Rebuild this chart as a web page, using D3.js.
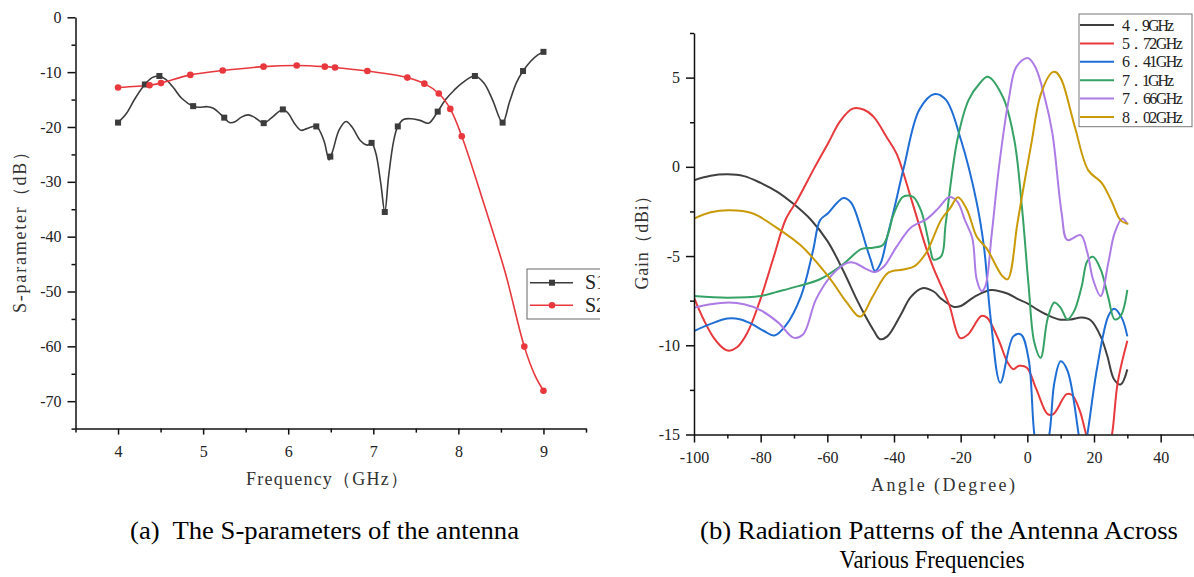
<!DOCTYPE html>
<html>
<head>
<meta charset="utf-8">
<script src="https://cdn.jsdelivr.net/npm/d3@7"></script>
<style>
  body { margin: 0; background: #fff; }
</style>
</head>
<body>
<div class="chart"></div>
<script>
// (a) S-parameters: dense line data + marker points
var s11Freq = [4.0, 4.1, 4.2, 4.315, 4.4, 4.48, 4.56, 4.65, 4.75, 4.883, 4.95, 5.05, 5.12, 5.2, 5.248, 5.31, 5.38, 5.45, 5.53, 5.6, 5.712, 5.8, 5.937, 6.0, 6.08, 6.15, 6.22, 6.33, 6.42, 6.48, 6.52, 6.6, 6.68, 6.75, 6.85, 6.93, 6.98, 7.03, 7.09, 7.135, 7.18, 7.24, 7.288, 7.36, 7.45, 7.55, 7.65, 7.757, 7.85, 7.95, 8.05, 8.194, 8.3, 8.4, 8.52, 8.6, 8.68, 8.76, 8.85, 8.93, 9.0];
var s11Val = [-19.2, -17.5, -14.8, -12.25, -11.0, -10.7, -11.3, -12.8, -14.8, -16.2, -16.4, -16.3, -16.6, -17.6, -18.3, -19.2, -19.0, -18.2, -17.8, -18.2, -19.3, -18.4, -16.8, -17.5, -19.5, -20.6, -20.3, -19.9, -22.5, -26.0, -24.5, -20.5, -19.0, -20.0, -22.5, -23.3, -22.9, -24.8, -30.5, -35.5, -29.0, -22.5, -19.9, -18.6, -18.5, -18.8, -19.3, -17.2, -15.0, -13.3, -11.9, -10.7, -12.0, -15.0, -19.2, -15.5, -12.0, -9.8, -8.0, -6.9, -6.3];
var s11MarkFreq = [4.0, 4.315, 4.486, 4.883, 5.248, 5.712, 5.937, 6.33, 6.495, 6.98, 7.135, 7.288, 7.757, 8.194, 8.52, 8.76, 9.0];
var s11MarkVal = [-19.2, -12.25, -10.7, -16.2, -18.3, -19.3, -16.8, -19.9, -25.4, -22.9, -35.5, -19.9, -17.2, -10.7, -19.2, -9.8, -6.3];

var s21Freq = [4.0, 4.37, 4.505, 4.85, 5.23, 5.71, 6.1, 6.43, 6.55, 6.93, 7.4, 7.6, 7.77, 7.905, 8.04, 8.3, 8.55, 8.775, 8.9, 9.0];
var s21Val = [-12.8, -12.4, -12.0, -10.5, -9.7, -9.0, -8.8, -9.0, -9.15, -9.8, -11.0, -12.1, -13.9, -16.7, -21.7, -34.0, -46.5, -60.05, -65.3, -68.1];
var s21MarkFreq = [4.0, 4.37, 4.505, 4.85, 5.23, 5.71, 6.1, 6.43, 6.55, 6.93, 7.4, 7.6, 7.77, 7.905, 8.04, 8.775, 9.0];
var s21MarkVal = [-12.8, -12.4, -12.0, -10.5, -9.7, -9.0, -8.8, -9.0, -9.15, -9.8, -11.0, -12.1, -13.9, -16.7, -21.7, -60.05, -68.1];

var sTicksX = [4, 5, 6, 7, 8, 9];
var sMinorX = [3.5, 4.5, 5.5, 6.5, 7.5, 8.5, 9.5];
var sTicksY = [0, -10, -20, -30, -40, -50, -60, -70];
var sMinorY = [-5, -15, -25, -35, -45, -55, -65, -75];
var sLegend = ["S11", "S21"];

// (b) radiation patterns, one angle/gain pair per frequency
var freqLabels = ["4．9GHz", "5．72GHz", "6．41GHz", "7．1GHz", "7．66GHz", "8．02GHz"];

var ang49 = [-100, -95, -90, -85, -80, -75, -70, -65, -60, -55.4, -51, -48.6, -46, -44.2, -42, -38, -35, -31.5, -28, -25.8, -22, -20, -16, -11, -6, -3, 0, 3, 6, 9.5, 13, 16.3, 19, 22, 24, 26, 28, 30];
var gain49 = [-0.75, -0.5, -0.42, -0.52, -0.9, -1.4, -2.1, -2.95, -4.15, -5.75, -7.5, -8.36, -9.2, -9.66, -9.5, -8.3, -7.3, -6.8, -7.0, -7.4, -7.85, -7.8, -7.3, -6.9, -7.1, -7.4, -7.65, -8.0, -8.3, -8.55, -8.55, -8.45, -8.6, -9.5, -10.6, -11.9, -12.2, -11.35];

var ang572 = [-100, -97, -94, -91, -89.5, -87, -84, -80.4, -76, -72.5, -68.9, -64, -59.8, -56, -52.4, -49, -46.1, -42, -39.2, -34.7, -30.1, -28, -23.5, -20.1, -17.8, -13.8, -12.1, -8.7, -5.9, -4.2, -2.5, -0.2, 2.7, 6.1, 7.8, 11.8, 13.5, 15.8, 17.5, 20, 23, 25.4, 27.1, 30];
var gain572 = [-7.33, -8.6, -9.6, -10.2, -10.3, -10.1, -9.3, -7.6, -5.0, -2.95, -1.83, -0.1, 1.31, 2.6, 3.26, 3.2, 2.8, 1.6, 0.73, -1.88, -4.7, -5.75, -7.7, -9.6, -9.4, -8.36, -8.45, -9.66, -10.97, -11.34, -11.15, -11.25, -12.46, -13.86, -13.86, -12.74, -12.8, -13.7, -14.9, -16.5, -17.0, -15.0, -12.1, -9.75];

var ang641 = [-100, -95, -90, -86, -82.7, -79, -75.9, -72.5, -67.9, -64.3, -62.2, -59.8, -57, -55.2, -52.9, -50, -48.4, -47, -45.7, -44, -42, -40, -37, -32.4, -27.8, -24.4, -19.9, -15.3, -13, -11, -8.1, -4.2, -1.9, 0.4, 2.1, 4, 6.6, 8.1, 10, 12, 15.4, 16.5, 18, 20.9, 24.3, 26, 28.3, 30];
var gain641 = [-9.2, -8.8, -8.5, -8.55, -8.8, -9.2, -9.45, -8.9, -7.24, -4.7, -3.0, -2.6, -2.0, -1.75, -2.0, -3.4, -4.4, -5.2, -5.84, -5.4, -3.9, -2.4, 0.0, 3.2, 4.08, 3.75, 1.5, -1.9, -4.5, -8.5, -12.1, -9.5, -9.4, -10.8, -15.0, -17.0, -15.0, -12.1, -10.9, -11.4, -15.0, -16.5, -15.0, -11.3, -8.36, -7.95, -8.45, -9.5];

var ang71 = [-100, -90, -80, -75, -69, -62.2, -55.4, -49.7, -46.3, -43.4, -41.5, -40.4, -37.5, -35.8, -34.1, -31.8, -29, -28.2, -25.8, -24.5, -21, -17.6, -14.2, -11.9, -7.3, -3.9, -1.6, 0.4, 2.1, 4, 6.1, 8.1, 10, 12, 14, 16.3, 18, 19.7, 22, 24.3, 26.2, 28, 30];
var gain71 = [-7.24, -7.33, -7.24, -7.0, -6.7, -6.3, -5.47, -4.6, -4.53, -4.4, -3.6, -2.8, -1.7, -1.6, -1.7, -2.5, -4.7, -5.2, -5.0, -3.2, 1.5, 3.75, 4.7, 5.05, 3.9, 1.5, -2.3, -6.7, -9.85, -10.7, -8.5, -7.6, -7.9, -8.55, -8.1, -6.7, -5.28, -5.04, -5.75, -7.33, -8.55, -8.36, -6.9];

var ang766 = [-100, -95, -89.5, -85, -80.4, -74.7, -70.2, -67.3, -63.4, -58.8, -54.2, -52, -48.6, -45.7, -42.9, -39.4, -34.9, -30, -26.6, -23.5, -21, -18.7, -16.5, -15.2, -13.7, -12.6, -10.7, -8.5, -5.6, -3.3, 0.1, 2.4, 5.2, 7.5, 10.3, 12, 16, 18, 19.7, 22, 24.3, 26.2, 28.5, 30];
var gain766 = [-7.9, -7.7, -7.6, -7.7, -8.0, -8.73, -9.57, -9.4, -7.43, -6.1, -5.4, -5.37, -5.7, -5.9, -5.56, -4.53, -3.4, -2.9, -2.3, -1.7, -1.95, -3.0, -4.0, -6.3, -6.96, -6.7, -3.8, 0.0, 3.75, 5.6, 6.1, 5.6, 3.9, 1.9, -2.6, -4.1, -3.83, -4.8, -6.3, -7.24, -5.37, -3.7, -2.9, -3.2];

var ang802 = [-100, -95, -89.4, -82.5, -75.7, -68, -59.9, -54.2, -50.8, -49.7, -46.3, -41.7, -37.2, -33.8, -30.3, -25.8, -23.1, -20.8, -18.1, -15.2, -12.1, -7.6, -5.9, -3, -1.1, 1.2, 4.1, 7.5, 8.6, 10.3, 14.3, 18.3, 22.3, 25.2, 28, 30.3];
var gain802 = [-2.9, -2.55, -2.44, -2.6, -3.35, -4.4, -6.1, -7.6, -8.36, -8.36, -7.24, -5.93, -5.75, -5.56, -4.8, -2.95, -2.3, -1.7, -2.4, -3.9, -4.6, -6.1, -6.3, -3.2, -1.1, 1.3, 4.1, 5.3, 5.3, 4.85, 2.2, -0.2, -0.9, -1.9, -3.0, -3.2];

var patternColors = ["#404040", "#e8393c", "#1f6ed6", "#36a266", "#ad7be6", "#c99a06"];

var gTicksX = [-100, -80, -60, -40, -20, 0, 20, 40];
var gMinorX = [-90, -70, -50, -30, -10, 10, 30, 50];
var gTicksY = [-15, -10, -5, 0, 5];
var gMinorY = [-12.5, -7.5, -2.5, 2.5, 7.5];

var serif = "'Liberation Serif', 'Times New Roman', serif";

var svgWidth = 1194;
var svgHeight = 577;

var svg = d3.select(".chart")
  .append("svg")
  .attr("width", svgWidth)
  .attr("height", svgHeight);

// clip the left panel at the image seam (legend is cut there)
var defs = svg.append("defs");
defs.append("clipPath").attr("id", "leftClip")
  .append("rect").attr("x", 0).attr("y", 0).attr("width", 600).attr("height", 500);

function styleAxis(g) {
  g.selectAll("path, line").attr("stroke", "#111").attr("stroke-width", 1.5);
  g.selectAll("text")
    .style("font-family", serif)
    .style("font-size", "16px")
    .attr("fill", "#222");
}

// helper: major + minor ticks for one axis
function drawAxis(parent, axisMaker, scale, major, minor, bigTick, smallTick, pad, translate) {
  parent.append("g")
    .attr("transform", translate)
    .call(axisMaker(scale).tickValues(minor).tickSize(smallTick).tickFormat(""))
    .call(g => g.select(".domain").remove())
    .call(styleAxis);

  parent.append("g")
    .attr("transform", translate)
    .call(axisMaker(scale).tickValues(major).tickSize(bigTick).tickSizeOuter(0)
      .tickPadding(pad).tickFormat(d => String(d)))
    .call(styleAxis);
}

function axisTitle(parent, x, y, rotate, len, label) {
  parent.append("text")
    .attr("transform", `translate(${x}, ${y})` + (rotate ? " rotate(-90)" : ""))
    .attr("text-anchor", "middle")
    .attr("dy", "0.35em")
    .attr("textLength", len)
    .attr("lengthAdjust", "spacing")
    .style("font-family", serif)
    .style("font-size", "18px")
    .attr("fill", "#333")
    .text(label);
}

// ---------------- (a) S-parameters ----------------
var left = svg.append("g").attr("clip-path", "url(#leftClip)");

var sx = d3.scaleLinear().domain([3.5, 9.5]).range([75.5, 586]);
var sy = d3.scaleLinear().domain([-75, 0]).range([428.6, 17.3]);

drawAxis(left, d3.axisBottom, sx, sTicksX, sMinorX, 6, 4, 11, `translate(0, ${sy(-75)})`);
drawAxis(left, d3.axisLeft, sy, sTicksY, sMinorY, 8, 4, 6, `translate(${sx(3.5)}, 0)`);

var sLine = d3.line()
  .x(d => sx(d[0]))
  .y(d => sy(d[1]))
  .curve(d3.curveCatmullRom.alpha(0.5));

var s11Data = s11Freq.map((f, i) => [f, s11Val[i]]);
var s21Data = s21Freq.map((f, i) => [f, s21Val[i]]);

left.append("path")
  .attr("d", sLine(s11Data))
  .attr("fill", "none")
  .attr("stroke", "#3c3c3c")
  .attr("stroke-width", 1.6);

left.append("path")
  .attr("d", sLine(s21Data))
  .attr("fill", "none")
  .attr("stroke", "#e8383d")
  .attr("stroke-width", 1.6);

left.selectAll(".s11mark")
  .data(s11MarkFreq.map((f, i) => [f, s11MarkVal[i]]))
  .enter()
  .append("rect")
  .attr("x", d => sx(d[0]) - 3)
  .attr("y", d => sy(d[1]) - 3)
  .attr("width", 6)
  .attr("height", 6)
  .attr("fill", "#3c3c3c");

left.selectAll(".s21mark")
  .data(s21MarkFreq.map((f, i) => [f, s21MarkVal[i]]))
  .enter()
  .append("circle")
  .attr("cx", d => sx(d[0]))
  .attr("cy", d => sy(d[1]))
  .attr("r", 3.3)
  .attr("fill", "#e8383d");

// legend (cut off at the right edge)
var sLeg = left.append("g").attr("transform", "translate(527, 269)");
sLeg.append("rect")
  .attr("width", 100).attr("height", 50)
  .attr("fill", "#fff").attr("stroke", "#666").attr("stroke-width", 1);
sLegend.forEach(function(name, i) {
  var yy = 13.7 + i * 22.6;
  var col = i === 0 ? "#3c3c3c" : "#e8383d";
  sLeg.append("line").attr("x1", 3).attr("x2", 46).attr("y1", yy).attr("y2", yy)
    .attr("stroke", col).attr("stroke-width", 1.6);
  if (i === 0) {
    sLeg.append("rect").attr("x", 22).attr("y", yy - 3).attr("width", 6).attr("height", 6).attr("fill", col);
  } else {
    sLeg.append("circle").attr("cx", 25).attr("cy", yy).attr("r", 3.3).attr("fill", col);
  }
  sLeg.append("text").attr("x", 58).attr("y", yy + 6.5)
    .style("font-family", serif).style("font-size", "20px").attr("fill", "#222")
    .text(name);
});

axisTitle(left, 20, 228, true, 170, "S-parameter（dB）");
axisTitle(left, 327, 479, false, 162, "Frequency（GHz）");

// ---------------- (b) radiation patterns ----------------
var right = svg.append("g");

var gx = d3.scaleLinear().domain([-100, 50]).range([694, 1194]);
var gy = d3.scaleLinear().domain([-15, 7.5]).range([434.5, 33]);

defs.append("clipPath").attr("id", "plotClip")
  .append("rect")
  .attr("x", gx(-100)).attr("y", gy(7.5))
  .attr("width", gx(50) - gx(-100)).attr("height", gy(-15) - gy(7.5));

var gLine = d3.line()
  .x(d => gx(d[0]))
  .y(d => gy(d[1]))
  .curve(d3.curveCatmullRom.alpha(0.5));

var patternAngles = [ang49, ang572, ang641, ang71, ang766, ang802];
var patternGains = [gain49, gain572, gain641, gain71, gain766, gain802];

var lineGroup = right.append("g").attr("clip-path", "url(#plotClip)");
patternAngles.forEach(function(angles, k) {
  var pts = angles.map((a, i) => [a, patternGains[k][i]]);
  lineGroup.append("path")
    .attr("d", gLine(pts))
    .attr("fill", "none")
    .attr("stroke", patternColors[k])
    .attr("stroke-width", 2);
});

drawAxis(right, d3.axisBottom, gx, gTicksX, gMinorX, 8, 4, 9, `translate(0, ${gy(-15)})`);
drawAxis(right, d3.axisLeft, gy, gTicksY, gMinorY, 8, 4, 6, `translate(${gx(-100)}, 0)`);

var gLeg = right.append("g").attr("transform", "translate(1079, 14)");
gLeg.append("rect")
  .attr("width", 113).attr("height", 112.7)
  .attr("fill", "#fff").attr("stroke", "#777").attr("stroke-width", 1);
freqLabels.forEach(function(name, i) {
  var yy = 11 + i * 18.4;
  gLeg.append("line").attr("x1", 1).attr("x2", 35).attr("y1", yy).attr("y2", yy)
    .attr("stroke", patternColors[i]).attr("stroke-width", 2);
  gLeg.append("text")
    .attr("x", 43).attr("y", yy + 5.5)
    .attr("textLength", name.length * 8.7)
    .attr("lengthAdjust", "spacing")
    .style("font-family", serif).style("font-size", "16px").attr("fill", "#222")
    .text(name);
});

axisTitle(right, 642, 238, true, 103, "Gain（dBi）");
axisTitle(right, 943, 485, false, 144, "Angle (Degree)");

// ---------------- captions ----------------
function caption(x, y, anchor, len, label) {
  svg.append("text")
    .attr("x", x).attr("y", y)
    .attr("text-anchor", anchor)
    .attr("textLength", len).attr("lengthAdjust", "spacingAndGlyphs")
    .attr("xml:space", "preserve")
    .style("font-family", serif).style("font-size", "25px").attr("fill", "#000")
    .text(label);
}
caption(130, 539, "start", 389, "(a)  The S-parameters of the antenna");
caption(700, 539, "start", 478, "(b) Radiation Patterns of the Antenna Across");
caption(932, 568, "middle", 185, "Various Frequencies");
</script>
</body>
</html>
